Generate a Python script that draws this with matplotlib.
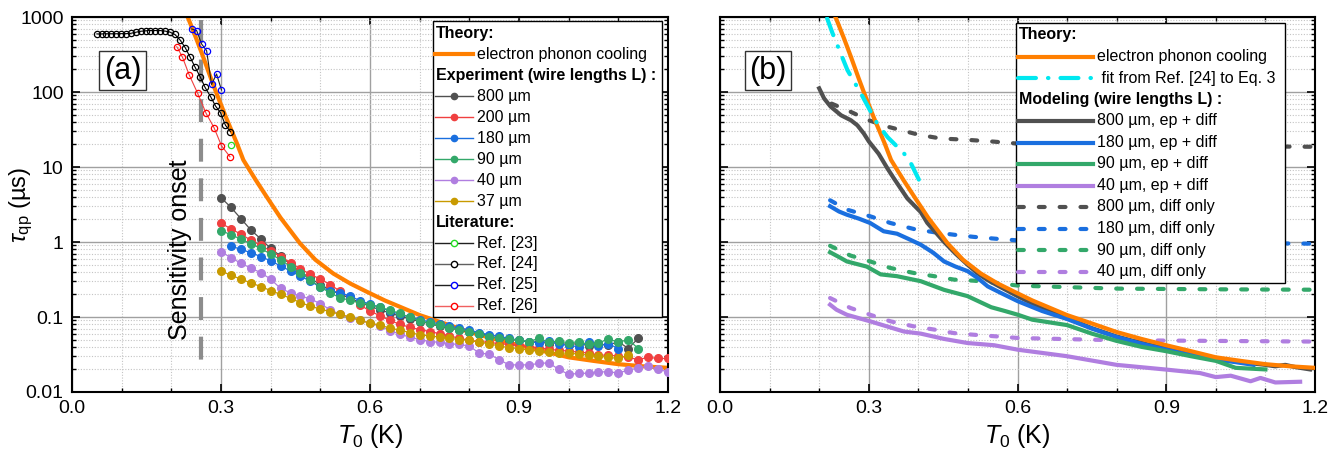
import numpy as np
import matplotlib
matplotlib.use('Agg')
import matplotlib.pyplot as plt
from matplotlib.lines import Line2D
from matplotlib.patches import Rectangle
from matplotlib.ticker import MultipleLocator, LogLocator, NullFormatter, FuncFormatter

plt.rcParams['font.family'] = ['Liberation Sans', 'DejaVu Sans']
plt.rcParams['mathtext.fontset'] = 'custom'
plt.rcParams['mathtext.rm'] = 'Liberation Sans'
plt.rcParams['mathtext.it'] = 'Liberation Sans:italic'
plt.rcParams['mathtext.bf'] = 'Liberation Sans:bold'

# ---------------- data: theory ----------------
T_ep = [0.226, 0.234, 0.25, 0.264, 0.28, 0.291, 0.31, 0.332, 0.345, 0.37, 0.392, 0.42,
        0.459, 0.49, 0.526, 0.56, 0.593, 0.63, 0.66, 0.70, 0.75, 0.80, 0.85, 0.90,
        0.95, 1.00, 1.05, 1.10, 1.15, 1.20]
tau_ep = [1250, 960, 520, 295, 150, 96, 46, 20.7, 12.4, 6.7, 4.0, 2.1,
          0.96, 0.58, 0.38, 0.28, 0.218, 0.166, 0.137, 0.106, 0.082, 0.063, 0.051, 0.042,
          0.035, 0.029, 0.026, 0.0235, 0.022, 0.021]

T_fit24 = [0.216, 0.227, 0.257, 0.284, 0.317, 0.338, 0.371, 0.385, 0.401]
tau_fit24 = [960, 606, 196, 96, 38, 25, 15.2, 11.2, 6.8]

# ---------------- data: experiment (panel a) ----------------
T_800 = np.round(np.arange(0.30, 1.141, 0.02), 2)
tau_800 = [3.9, 2.9, 2.05, 1.45, 1.1, 0.82, 0.65, 0.50, 0.40, 0.33, 0.27, 0.23, 0.20, 0.178,
           0.156, 0.139, 0.125, 0.113, 0.103, 0.094, 0.087, 0.082, 0.075, 0.071, 0.067, 0.063,
           0.060, 0.056, 0.052, 0.050, 0.049, 0.046, 0.047, 0.044, 0.046, 0.042, 0.045, 0.041,
           0.044, 0.042, 0.047, 0.038, 0.052]

T_200 = np.round(np.arange(0.30, 1.201, 0.02), 2)
tau_200 = [1.78, 1.5, 1.27, 1.06, 0.90, 0.76, 0.64, 0.53, 0.44, 0.37, 0.32, 0.27, 0.22, 0.18,
           0.145, 0.12, 0.104, 0.09, 0.08, 0.073, 0.068, 0.064, 0.06, 0.056, 0.052, 0.049,
           0.047, 0.046, 0.044, 0.043, 0.042, 0.040, 0.039, 0.037, 0.036, 0.035, 0.034, 0.033,
           0.031, 0.031, 0.030, 0.029, 0.027, 0.029, 0.028, 0.028]

T_180 = np.round(np.arange(0.32, 1.101, 0.02), 2)
tau_180 = [0.88, 0.80, 0.72, 0.64, 0.56, 0.48, 0.41, 0.35, 0.30, 0.25, 0.225, 0.21, 0.19,
           0.165, 0.148, 0.135, 0.12, 0.108, 0.10, 0.092, 0.086, 0.081, 0.076, 0.071, 0.067,
           0.062, 0.058, 0.055, 0.052, 0.049, 0.047, 0.045, 0.048, 0.043, 0.042, 0.040, 0.046,
           0.041, 0.044, 0.038]

T_90 = np.round(np.arange(0.30, 1.141, 0.02), 2)
tau_90 = [1.42, 1.25, 1.09, 0.95, 0.82, 0.69, 0.58, 0.47, 0.39, 0.31, 0.25, 0.21, 0.18, 0.167,
          0.155, 0.146, 0.135, 0.123, 0.112, 0.099, 0.089, 0.083, 0.078, 0.072, 0.068, 0.064,
          0.060, 0.054, 0.052, 0.051, 0.049, 0.047, 0.052, 0.046, 0.048, 0.045, 0.047, 0.043,
          0.045, 0.051, 0.046, 0.050, 0.038]

T_40 = np.round(np.arange(0.30, 1.201, 0.02), 2)
tau_40 = [0.74, 0.62, 0.52, 0.45, 0.39, 0.32, 0.24, 0.21, 0.19, 0.175, 0.15, 0.125, 0.108,
          0.098, 0.09, 0.083, 0.075, 0.066, 0.059, 0.054, 0.050, 0.047, 0.046, 0.044, 0.043,
          0.041, 0.033, 0.032, 0.027, 0.023, 0.023, 0.023, 0.024, 0.0245, 0.020, 0.0172,
          0.0177, 0.0178, 0.0186, 0.0185, 0.018, 0.0195, 0.021, 0.022, 0.020, 0.0186]

T_37 = np.round(np.arange(0.30, 1.121, 0.02), 2)
tau_37 = [0.41, 0.36, 0.32, 0.285, 0.255, 0.225, 0.20, 0.178, 0.155, 0.14, 0.127, 0.118, 0.108,
          0.100, 0.09, 0.083, 0.078, 0.071, 0.067, 0.062, 0.058, 0.056, 0.054, 0.052, 0.050,
          0.049, 0.046, 0.044, 0.041, 0.039, 0.038, 0.036, 0.035, 0.034, 0.033, 0.033, 0.032,
          0.031, 0.030, 0.029, 0.028, 0.031]

# ---------------- data: literature (panel a) ----------------
T_ref23 = [0.320]
tau_ref23 = [19.6]
T_ref24 = [0.050, 0.060, 0.069, 0.079, 0.089, 0.099, 0.109, 0.118, 0.128, 0.138, 0.148, 0.158,
           0.167, 0.177, 0.187, 0.197, 0.207, 0.217, 0.228, 0.238, 0.248, 0.258, 0.268, 0.279,
           0.289, 0.299, 0.309, 0.319]
tau_ref24 = [595, 595, 598, 598, 598, 600, 600, 605, 625, 645, 655, 660, 660, 660, 650, 630,
             585, 500, 390, 290, 213, 160, 115, 87, 65, 53, 36, 29.6]
T_ref25 = [0.241, 0.251, 0.261, 0.271, 0.281, 0.291, 0.301]
tau_ref25 = [692, 658, 436, 356, 126, 174, 106]
T_ref26 = [0.211, 0.222, 0.236, 0.253, 0.270, 0.286, 0.301, 0.318]
tau_ref26 = [402, 296, 169, 96, 52, 33.4, 19.2, 13.7]

# ---------------- data: modeling (panel b) ----------------
T_m800 = [0.200, 0.210, 0.223, 0.244, 0.264, 0.277, 0.290, 0.300, 0.320, 0.338, 0.351, 0.378,
          0.405, 0.418, 0.452, 0.475, 0.499, 0.520, 0.540, 0.566, 0.600, 0.650, 0.700, 0.750,
          0.800, 0.850, 0.900, 0.950, 1.000, 1.050, 1.100, 1.120, 1.140, 1.160, 1.190]
tau_m800 = [112, 82, 64, 49, 42, 36, 28, 22, 15, 9.5, 7.0, 3.8, 2.5, 1.8, 1.0, 0.7, 0.5, 0.38,
            0.31, 0.25, 0.19, 0.13, 0.097, 0.071, 0.055, 0.045, 0.038, 0.033, 0.028, 0.025,
            0.023, 0.022, 0.023, 0.0215, 0.020]
T_m180 = [0.222, 0.240, 0.256, 0.280, 0.303, 0.330, 0.357, 0.380, 0.405, 0.430, 0.452, 0.475,
          0.499, 0.520, 0.540, 0.566, 0.601, 0.650, 0.700, 0.750, 0.800, 0.850, 0.900, 0.950,
          1.000, 1.040, 1.076]
tau_m180 = [3.0, 2.55, 2.31, 2.05, 1.79, 1.39, 1.29, 1.1, 0.92, 0.72, 0.55, 0.47, 0.41, 0.33,
            0.256, 0.21, 0.162, 0.12, 0.094, 0.07, 0.054, 0.044, 0.0366, 0.031, 0.027, 0.025,
            0.023]
T_m90 = [0.222, 0.240, 0.256, 0.296, 0.324, 0.357, 0.405, 0.452, 0.499, 0.547, 0.575, 0.601,
         0.630, 0.700, 0.750, 0.800, 0.850, 0.900, 0.950, 1.000, 1.040, 1.100]
tau_m90 = [0.73, 0.63, 0.55, 0.47, 0.37, 0.35, 0.30, 0.23, 0.19, 0.135, 0.12, 0.107, 0.092,
           0.078, 0.060, 0.048, 0.040, 0.035, 0.030, 0.026, 0.021, 0.020]
T_m40 = [0.222, 0.235, 0.256, 0.303, 0.371, 0.405, 0.452, 0.499, 0.553, 0.601, 0.700, 0.800,
         0.900, 0.968, 1.000, 1.030, 1.070, 1.090, 1.120, 1.170]
tau_m40 = [0.146, 0.125, 0.107, 0.0875, 0.064, 0.060, 0.051, 0.045, 0.042, 0.0366, 0.030,
           0.023, 0.0199, 0.0179, 0.0158, 0.0165, 0.0139, 0.0154, 0.0134, 0.0137]

T_d800 = [0.225, 0.257, 0.300, 0.338, 0.400, 0.445, 0.500, 0.552, 0.600, 0.800, 1.000, 1.200]
tau_d800 = [70, 57, 42, 34.5, 27, 24, 23, 21.8, 20.5, 19.5, 19, 18.6]
T_d180 = [0.222, 0.256, 0.303, 0.344, 0.391, 0.432, 0.472, 0.512, 0.560, 0.601, 0.800, 1.000, 1.200]
tau_d180 = [3.6, 2.7, 2.2, 1.79, 1.49, 1.35, 1.25, 1.17, 1.1, 1.05, 1.0, 0.97, 0.95]
T_d90 = [0.222, 0.263, 0.303, 0.344, 0.391, 0.432, 0.472, 0.512, 0.560, 0.601, 0.800, 1.000, 1.200]
tau_d90 = [0.89, 0.66, 0.55, 0.45, 0.386, 0.35, 0.315, 0.305, 0.284, 0.262, 0.239, 0.234, 0.231]
T_d40 = [0.222, 0.263, 0.303, 0.344, 0.391, 0.432, 0.472, 0.512, 0.560, 0.601, 0.800, 1.000, 1.200]
tau_d40 = [0.179, 0.132, 0.107, 0.0875, 0.075, 0.068, 0.061, 0.058, 0.055, 0.0525, 0.049, 0.048, 0.047]

onset_T = 0.26
onset_span = (900, 0.018)

# ---------------- colours ----------------
c_orange = '#ff7f00'
c_cyan = '#00e8f0'
c_gray = '#505050'
c_red = '#f04040'
c_blue = '#1a6fdf'
c_green = '#33a86a'
c_purple = '#b07ee0'
c_gold = '#c89a00'

W, H = 1341, 454
fig = plt.figure(figsize=(W / 100, H / 100), dpi=100)
ax_a = fig.add_axes([72 / W, 1 - 392 / H, 596 / W, 375 / H])
ax_b = fig.add_axes([720 / W, 1 - 392 / H, 595 / W, 375 / H], sharey=ax_a)


def style_axis(ax):
    ax.set_yscale('log')
    ax.set_xlim(0, 1.2)
    ax.set_ylim(0.01, 1000)
    ax.xaxis.set_major_locator(MultipleLocator(0.3))
    ax.xaxis.set_minor_locator(MultipleLocator(0.1))
    ax.xaxis.set_major_formatter(FuncFormatter(lambda v, p: f'{v:.1f}'))
    ax.yaxis.set_major_locator(LogLocator(base=10, numticks=10))
    ax.yaxis.set_minor_locator(LogLocator(base=10, subs=np.arange(2, 10), numticks=10))
    ax.yaxis.set_minor_formatter(NullFormatter())
    ax.yaxis.set_major_formatter(FuncFormatter(lambda v, p: f'{v:g}'))
    ax.grid(which='major', color='#a0a0a0', lw=1.0)
    ax.grid(which='minor', color='#c4c4c4', lw=0.8, ls=(0, (1, 1.5)))
    ax.set_axisbelow(True)
    ax.tick_params(which='both', direction='in', top=True, right=True, labelsize=14, pad=6)
    ax.tick_params(which='major', length=6, width=1.2)
    ax.tick_params(which='minor', length=3, width=1)
    for s in ax.spines.values():
        s.set_linewidth(1.5)
    ax.set_xlabel(r'$T_0$ (K)', fontsize=18, labelpad=3)


style_axis(ax_a)
style_axis(ax_b)
ax_b.tick_params(labelleft=False)
ax_a.set_ylabel(r'$\tau_\mathrm{qp}$ (µs)', fontsize=17)
ax_a.yaxis.set_label_coords(-0.062, 0.5)

# ---------------- panel (a) ----------------
ax_a.plot(T_ep, tau_ep, color=c_orange, lw=3, zorder=2.5)
ax_a.plot([onset_T, onset_T], onset_span, color='#8c8c8c', lw=3, dashes=(5.5, 4), zorder=2)

for T, tau, c in [(T_800, tau_800, c_gray), (T_200, tau_200, c_red), (T_180, tau_180, c_blue),
                  (T_90, tau_90, c_green), (T_40, tau_40, c_purple), (T_37, tau_37, c_gold)]:
    ax_a.plot(T, tau, '-o', color=c, lw=0.9, ms=5.5, zorder=3)

ax_a.plot(T_ref24, tau_ref24, '-o', color='k', lw=0.8, ms=4.5, mfc='none', mec='k', mew=0.9, zorder=4)
ax_a.plot(T_ref26, tau_ref26, '-o', color=c_red, lw=0.8, ms=4.5, mfc='none', mec='red', mew=0.9, zorder=4)
ax_a.plot(T_ref25, tau_ref25, '-o', color='#202020', lw=0.8, ms=4.5, mfc='none', mec='blue', mew=0.9, zorder=4)
ax_a.plot(T_ref23, tau_ref23, 'o', ms=4.5, mfc='none', mec='#22dd22', mew=0.9, zorder=4)

ax_a.text(0.217, 0.8, 'Sensitivity onset', rotation=90, fontsize=18, ha='center', va='center')
ax_a.text(0.0847, 0.857, '(a)', transform=ax_a.transAxes, fontsize=22, ha='center', va='center',
          bbox=dict(boxstyle='square,pad=0.15', fc='white', ec='#333333', lw=1), zorder=6)

# ---------------- panel (b) ----------------
dash = dict(lw=3, dashes=(1.4, 3.6), dash_capstyle='round')
ax_b.plot(T_d800, tau_d800, color=c_gray, zorder=3, **dash)
ax_b.plot(T_d180, tau_d180, color=c_blue, zorder=3, **dash)
ax_b.plot(T_d90, tau_d90, color=c_green, zorder=3, **dash)
ax_b.plot(T_d40, tau_d40, color=c_purple, zorder=3, **dash)
ax_b.plot(T_m800, tau_m800, color=c_gray, lw=3, zorder=3)
ax_b.plot(T_m180, tau_m180, color=c_blue, lw=3, zorder=3)
ax_b.plot(T_m90, tau_m90, color=c_green, lw=3, zorder=3)
ax_b.plot(T_m40, tau_m40, color=c_purple, lw=3, zorder=3)
ax_b.plot(T_ep, tau_ep, color=c_orange, lw=3, zorder=4)
ax_b.plot(T_fit24, tau_fit24, color=c_cyan, lw=3, dashes=(4.3, 2.9, 0.1, 2.9),
          dash_capstyle='round', zorder=5)
ax_b.text(0.0807, 0.857, '(b)', transform=ax_b.transAxes, fontsize=22, ha='center', va='center',
          bbox=dict(boxstyle='square,pad=0.15', fc='white', ec='#333333', lw=1), zorder=6)


# ---------------- legends (drawn by hand, in image pixels) ----------------
def px(x, y):
    return x / W, 1 - y / H


def draw_legend(box, rows, y0, dy, hx0, hx1, tx, head_x):
    x0, top, x1, bottom = box
    fig.add_artist(Rectangle(px(x0, bottom), (x1 - x0) / W, (bottom - top) / H,
                             transform=fig.transFigure, fc='white', ec='black', lw=1.0, zorder=10))
    for i, (label, style, marker) in enumerate(rows):
        y = y0 + i * dy
        if style is None:
            fig.text(*px(head_x, y), label, fontsize=11.5, fontweight='bold',
                     ha='left', va='center', zorder=12)
            continue
        a, fy = px(hx0, y)
        b, _ = px(hx1, y)
        fig.add_artist(Line2D([a, b], [fy, fy], transform=fig.transFigure, zorder=11, **style))
        if marker:
            fig.add_artist(Line2D([(a + b) / 2], [fy], transform=fig.transFigure, ls='none',
                                  zorder=11.5, **marker))
        fig.text(*px(tx, y), label, fontsize=11.5, ha='left', va='center', zorder=12)


def dot(c):
    return dict(marker='o', ms=4.5, mfc=c, mec=c)


def ring(c):
    return dict(marker='o', ms=4.5, mfc='white', mec=c, mew=1)


rows_a = [
    ('Theory:', None, None),
    ('electron phonon cooling', dict(color=c_orange, lw=3), None),
    ('Experiment (wire lengths L) :', None, None),
    ('800 µm', dict(color=c_gray, lw=1), dot(c_gray)),
    ('200 µm', dict(color=c_red, lw=1), dot(c_red)),
    ('180 µm', dict(color=c_blue, lw=1), dot(c_blue)),
    ('90 µm', dict(color=c_green, lw=1), dot(c_green)),
    ('40 µm', dict(color=c_purple, lw=1), dot(c_purple)),
    ('37 µm', dict(color=c_gold, lw=1), dot(c_gold)),
    ('Literature:', None, None),
    ('Ref. [23]', dict(color='#202020', lw=1), ring('#22dd22')),
    ('Ref. [24]', dict(color='#606060', lw=1), ring('k')),
    ('Ref. [25]', dict(color='#202020', lw=1), ring('blue')),
    ('Ref. [26]', dict(color='#f06060', lw=1), ring('red')),
]
draw_legend((433, 20.7, 662, 317), rows_a, 33.5, 20.95, 435, 473, 477, 436)

dash_leg = dict(lw=3, dashes=(1.4, 3.6), dash_capstyle='round')
rows_b = [
    ('Theory:', None, None),
    ('electron phonon cooling', dict(color=c_orange, lw=3), None),
    (' fit from Ref. [24] to Eq. 3', dict(color=c_cyan, lw=3, dashes=(4.3, 2.9, 0.1, 2.9),
                                          dash_capstyle='round'), None),
    ('Modeling (wire lengths L) :', None, None),
    ('800 µm, ep + diff', dict(color=c_gray, lw=3), None),
    ('180 µm, ep + diff', dict(color=c_blue, lw=3), None),
    ('90 µm, ep + diff', dict(color=c_green, lw=3), None),
    ('40 µm, ep + diff', dict(color=c_purple, lw=3), None),
    ('800 µm, diff only', dict(color=c_gray, **dash_leg), None),
    ('180 µm, diff only', dict(color=c_blue, **dash_leg), None),
    ('90 µm, diff only', dict(color=c_green, **dash_leg), None),
    ('40 µm, diff only', dict(color=c_purple, **dash_leg), None),
]
draw_legend((1016, 22.7, 1285, 283.3), rows_b, 35, 21.5, 1018, 1093, 1097, 1019)

fig.savefig('out.png', dpi=100)
